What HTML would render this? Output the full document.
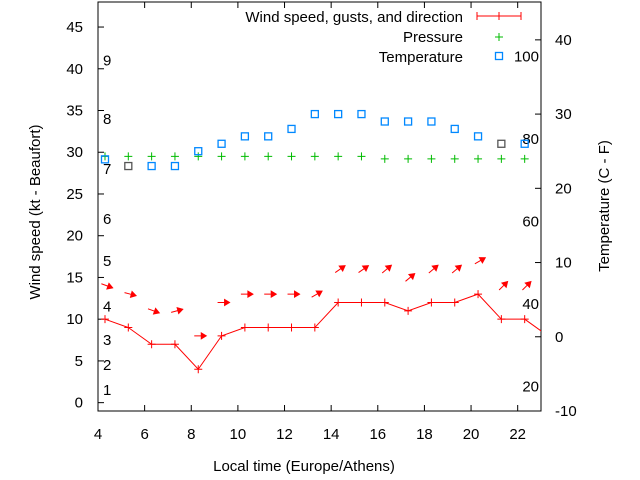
<!DOCTYPE html>
<html><head><meta charset="utf-8"><style>
body{margin:0;background:#fff}
svg{display:block;font-family:"Liberation Sans",sans-serif}
text{font-size:15px;fill:#000}
</style></head><body>
<svg id="c" width="640" height="480"></svg>
<script>
const hours=[4.3,5.3,6.3,7.3,8.3,9.3,10.3,11.3,12.3,13.3,14.3,15.3,16.3,17.3,18.3,19.3,20.3,21.3,22.3,23.3];
const windSpeed=[10,9,7,7,4,8,9,9,9,9,12,12,12,11,12,12,13,10,10,8];
const gustSpeed=[14,13,11,11,8,12,13,13,13,13,16,16,16,15,16,16,17,14,14];
const gustDir=[-20,-15,-20,15,0,0,0,0,0,30,35,35,40,40,40,40,30,45,45];
const pressure=[29.5,29.5,29.5,29.5,29.5,29.5,29.5,29.5,29.5,29.5,29.5,29.5,29.2,29.2,29.2,29.2,29.2,29.2,29.2];
const tempC=[23.9,23,23,23,25,26,27,27,28,30,30,30,29,29,29,28,27,26,26];
const xTicks=[4,6,8,10,12,14,16,18,20,22];
const yTicks=[0,5,10,15,20,25,30,35,40,45];
const y2Ticks=[-10,0,10,20,30,40];
const beaufort=[[1,1.5],[2,4.5],[3,7.5],[4,11.5],[5,17],[6,22],[7,28],[8,34],[9,41]];
const fahr=[20,40,60,80,100];
const L=98,R=541,T=2,B=411;
const X=v=>L+(v-4)/(23-4)*(R-L);
const Y=v=>B-(v+1)/(49)*(B-T);
const Y2=v=>B-(v+10)/(55.1)*(B-T);
const s=document.getElementById('c');const NS='http://www.w3.org/2000/svg';
function el(t,a,txt){const e=document.createElementNS(NS,t);for(const k in a)e.setAttribute(k,a[k]);if(txt!=null)e.textContent=txt;s.appendChild(e);return e;}
const frame=el('rect',{x:L,y:T,width:R-L,height:B-T,fill:'none',stroke:'#000'});


xTicks.forEach(v=>{el('line',{x1:X(v),x2:X(v),y1:B,y2:B-6,stroke:'#000'});el('line',{x1:X(v),x2:X(v),y1:T,y2:T+6,stroke:'#000'});
const t=el('text',{x:X(v),y:B+28,'text-anchor':'middle'},v);

});
yTicks.forEach(v=>{el('line',{x1:L,x2:L+6,y1:Y(v),y2:Y(v),stroke:'#000'});
const t=el('text',{x:L-15,y:Y(v)+5,'text-anchor':'end'},v);

});
y2Ticks.forEach(v=>{el('line',{x1:R,x2:R-6,y1:Y2(v),y2:Y2(v),stroke:'#000'});
const t=el('text',{x:R+14,y:Y2(v)+5,'text-anchor':'start'},v);

});
beaufort.forEach(b=>{const t=el('text',{x:103,y:Y(b[1])+5},b[0]);

});
fahr.forEach(f=>{const t=el('text',{x:539,y:Y2((f-32)*5/9)+5,'text-anchor':'end'},f);

});
let t=el('text',{x:304,y:471,'text-anchor':'middle'},'Local time (Europe/Athens)');

t=el('text',{transform:'translate(40,212) rotate(-90)','text-anchor':'middle'},'Wind speed (kt - Beaufort)');

t=el('text',{transform:'translate(609,206) rotate(-90)','text-anchor':'middle'},'Temperature (C - F)');

el('clipPath',{id:'cp'}).appendChild(document.createElementNS(NS,'rect'));
const cr=s.querySelector('#cp rect');cr.setAttribute('x',L);cr.setAttribute('y',T);cr.setAttribute('width',R-L);cr.setAttribute('height',B-T);
const g=el('g',{'clip-path':'url(#cp)'});
const ln=document.createElementNS(NS,'polyline');
ln.setAttribute('points',hours.map((h,i)=>X(h)+','+Y(windSpeed[i])).join(' '));
ln.setAttribute('fill','none');ln.setAttribute('stroke','#f00');


g.appendChild(ln);
hours.forEach((h,i)=>{const p=document.createElementNS(NS,'path');const x=X(h),y=Y(windSpeed[i]);
p.setAttribute('d',`M${x-4},${y}H${x+4}M${x},${y-4}V${y+4}`);p.setAttribute('stroke','#f00');


g.appendChild(p);});
gustSpeed.forEach((v,i)=>{const x=X(hours[i])+2,y=Y(v);const a=gustDir[i]*Math.PI/180;const dx=Math.cos(a),dy=-Math.sin(a);
const x1=x-dx*6,y1=y-dy*6,x2=x+dx*6,y2=y+dy*6;const px=-dy,py=dx;
const p=el('path',{d:`M${x1},${y1}L${x2},${y2}M${x2},${y2}L${x2-dx*5+px*3},${y2-dy*5+py*3}L${x2-dx*5-px*3},${y2-dy*5-py*3}Z`,stroke:'#f00',fill:'#f00','stroke-width':1});

});
pressure.forEach((v,i)=>{const x=X(hours[i]),y=Y(v);
const p=el('path',{d:`M${x-4},${y}H${x+4}M${x},${y-4}V${y+4}`,stroke:'#0b0'});

});
tempC.forEach((v,i)=>{const x=X(hours[i]),y=Y2(v);
const r=el('rect',{x:x-3.5,y:y-3.5,width:7,height:7,fill:'none',stroke:i==1||i==17?'#555':'#08f','stroke-width':1.3});

});
t=el('text',{x:463,y:22,'text-anchor':'end'},'Wind speed, gusts, and direction');

el('path',{d:'M477,16H521M477,12V20M499,12V20M521,12V20',stroke:'#f00'});
t=el('text',{x:463,y:42,'text-anchor':'end'},'Pressure');

el('path',{d:'M495,37H503M499,33V41',stroke:'#0b0'});
t=el('text',{x:463,y:62,'text-anchor':'end'},'Temperature');

el('rect',{x:495.5,y:52.5,width:7,height:7,fill:'none',stroke:'#08f','stroke-width':1.3});
</script>
</body></html>
